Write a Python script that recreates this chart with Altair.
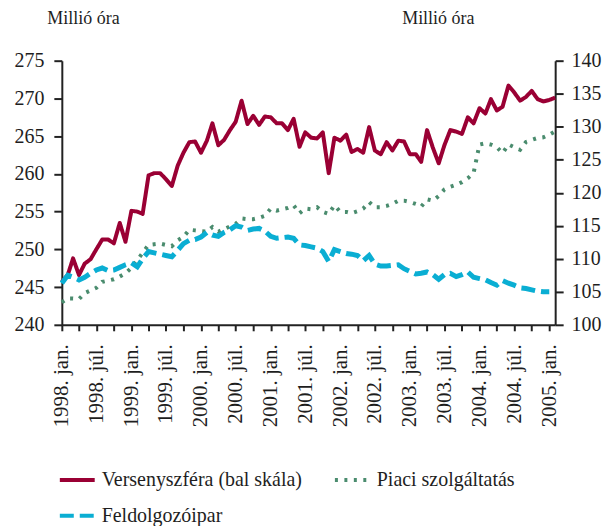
import altair as alt
import pandas as pd

FONT = "'Liberation Serif', 'Times New Roman', Times, serif"
TXT = "#1e1e1e"

series_names = ["Versenyszféra (bal skála)", "Piaci szolgáltatás", "Feldolgozóipar"]
series_colors = ["#9a0034", "#4a8c6e", "#0aaed3"]

# monthly, 1998 jan .. 2005 feb
dates = pd.date_range("1998-01-01", "2005-02-01", freq="MS")

versenyszfera = [
    245.7, 246.6, 248.8, 246.6, 248.1, 248.7, 250.0, 251.3, 251.3, 250.8, 253.5, 251.0,
    255.1, 255.0, 254.7, 259.8, 260.1, 260.1, 259.3, 258.4, 261.1, 262.8, 264.2, 264.3,
    262.8, 264.4, 266.7, 263.8, 264.5, 265.8, 266.9, 269.7, 266.6, 267.7, 266.5, 267.6,
    267.5, 266.7, 266.7, 265.8, 267.3, 263.6, 265.5, 264.8, 264.7, 265.5, 260.1, 264.8,
    264.4, 265.2, 262.9, 263.3, 262.8, 266.2, 263.1, 262.6, 264.2, 263.1, 264.4, 264.3,
    262.6, 262.6, 261.6, 265.8, 263.5, 261.4, 263.8, 265.8, 265.6, 265.3, 267.5, 266.7,
    268.7, 268.0, 269.9, 268.4, 268.9, 271.7, 270.8, 269.7, 270.2, 271.0, 269.9, 269.6,
    269.8, 270.1,
]

piaci = [
    103.4, 104.0, 104.0, 103.9, 104.8, 105.2, 105.6, 106.5, 106.7, 106.9, 107.3, 107.8,
    108.6, 109.8, 110.9, 112.1, 112.2, 112.3, 112.1, 111.9, 112.8, 113.3, 114.4, 114.3,
    114.2, 114.1, 114.8, 114.1, 114.5, 114.9, 115.3, 116.1, 116.0, 116.0, 116.2, 116.5,
    117.6, 117.3, 117.5, 117.7, 118.1, 116.9, 117.6, 117.5, 117.8, 117.1, 116.8, 118.1,
    117.1, 117.1, 116.9, 117.2, 117.6, 118.6, 117.8, 117.8, 118.0, 118.3, 118.8, 118.8,
    118.6, 118.3, 117.9, 119.0, 118.8, 119.5, 120.5, 120.9, 121.2, 121.6, 122.2, 123.0,
    127.3, 127.5, 127.3, 126.9, 126.0, 127.3, 126.9, 126.5, 127.7, 128.0, 128.3, 128.4,
    128.8, 129.3,
]

feldolgozo = [
    106.3, 107.5, 107.2, 106.8, 107.2, 107.8, 108.3, 108.6, 108.2, 108.3, 108.7, 109.1,
    109.4, 108.8, 110.0, 111.1, 110.9, 110.7, 110.5, 110.3, 111.3, 112.3, 112.8, 112.9,
    113.3, 114.0, 113.6, 113.4, 114.0, 114.4, 115.0, 114.8, 114.3, 114.5, 114.6, 114.2,
    113.4, 113.1, 113.2, 113.3, 113.1, 112.1, 112.0, 111.8, 111.6, 111.1, 109.6, 111.4,
    111.1, 110.8, 110.7, 110.5, 109.7, 110.5, 109.2, 108.9, 108.9, 109.0, 109.1, 108.5,
    108.1, 107.7, 107.8, 108.0, 107.6, 106.9, 107.6, 107.8, 107.3, 107.6, 108.0, 107.2,
    107.0, 106.8, 106.4, 106.0, 106.7, 106.3, 106.0, 105.6, 105.5, 105.3, 105.1, 105.0,
    105.0,
]

left_ticks = [240, 245, 250, 255, 260, 265, 270, 275]
right_ticks = [100, 105, 110, 115, 120, 125, 130, 135, 140]
tick_years = list(range(1998, 2006))

df_red = pd.DataFrame({"date": dates, "value": versenyszfera, "series": series_names[0]})
df_green = pd.DataFrame({"date": dates, "value": piaci, "series": series_names[1]})
df_blue = pd.DataFrame({"date": dates[: len(feldolgozo)], "value": feldolgozo, "series": series_names[2]})

quarter_ticks = []
for y in tick_years:
    for m in (1, 4, 7, 10):
        if y == 2005 and m > 1:
            break
        quarter_ticks.append(alt.DateTime(year=y, month=m, date=1))

label_expr = (
    "month(datum.value) == 0 ? year(datum.value) + '. jan.' : "
    "(month(datum.value) == 6 ? year(datum.value) + '. júl.' : '')"
)

x_enc = alt.X(
    "date:T",
    title=None,
    scale=alt.Scale(domain=[alt.DateTime(year=1998, month=1, date=1),
                            alt.DateTime(year=2005, month=2, date=1)]),
    axis=alt.Axis(
        values=quarter_ticks,
        labelExpr=label_expr,
        labelAngle=-90,
        labelFontSize=21,
        labelPadding=13,
        labelOverlap=False,
        labelFlush=False,
        labelBound=False,
        tickSize=6,
        tickWidth=2,
        domainWidth=2,
        grid=False,
    ),
)

legend = alt.Legend(
    title=None,
    orient="none",
    direction="horizontal",
    legendX=-4,
    legendY=401,
    columns=2,
    columnPadding=24,
    rowPadding=6,
    padding=0,
    symbolType="stroke",
    symbolSize=1225,
    symbolStrokeWidth=4,
    labelFont=FONT,
    labelFontSize=20,
    labelColor=TXT,
    labelOffset=5,
    labelLimit=400,
)

color_enc = alt.Color("series:N", scale=alt.Scale(domain=series_names, range=series_colors), legend=legend)
dash_enc = alt.StrokeDash(
    "series:N",
    scale=alt.Scale(domain=series_names, range=[[1, 0], [3, 6.5], [14, 6]]),
    legend=legend,
)


def y_axis(orient, ticks, title_x):
    return alt.Axis(
        orient=orient,
        values=ticks,
        tickSize=8,
        tickWidth=2,
        domainWidth=2,
        labelPadding=10 if orient == "left" else 8,
        labelFontSize=20,
        grid=False,
        title="Millió óra",
        titleAngle=0,
        titleAlign="left",
        titleBaseline="alphabetic",
        titleX=title_x,
        titleY=-37,
        titleFontSize=18,
        titleFontWeight="normal",
    )


red = alt.Chart(df_red).mark_line(strokeWidth=4, strokeJoin="round").encode(
    x=x_enc,
    y=alt.Y("value:Q", title="Millió óra",
            scale=alt.Scale(domain=[240, 275], nice=False, zero=False),
            axis=y_axis("left", left_ticks, -15)),
    color=color_enc,
    strokeDash=dash_enc,
)

green = alt.Chart(df_green).mark_line(strokeWidth=4).encode(
    x=x_enc,
    y=alt.Y("value:Q", title="Millió óra",
            scale=alt.Scale(domain=[100, 140], nice=False, zero=False),
            axis=y_axis("right", right_ticks, -154)),
    color=color_enc,
    strokeDash=dash_enc,
)

blue = alt.Chart(df_blue).mark_line(strokeWidth=5).encode(
    x=x_enc,
    y=alt.Y("value:Q", scale=alt.Scale(domain=[100, 140], nice=False, zero=False), axis=None),
    color=color_enc,
    strokeDash=dash_enc,
)

chart = (
    alt.layer(red, green, blue)
    .resolve_scale(y="independent")
    .properties(
        width=495,
        height=265,
        autosize=alt.AutoSizeParams(type="none"),
        padding={"left": 54, "top": 52, "right": 52, "bottom": 201},
        background="white",
    )
    .configure_view(stroke=None)
    .configure_axis(
        labelFont=FONT,
        titleFont=FONT,
        labelColor=TXT,
        titleColor=TXT,
        domainColor="#222222",
        tickColor="#222222",
    )
)

chart.save("out.html", embed_options={"renderer": "svg", "actions": False})
